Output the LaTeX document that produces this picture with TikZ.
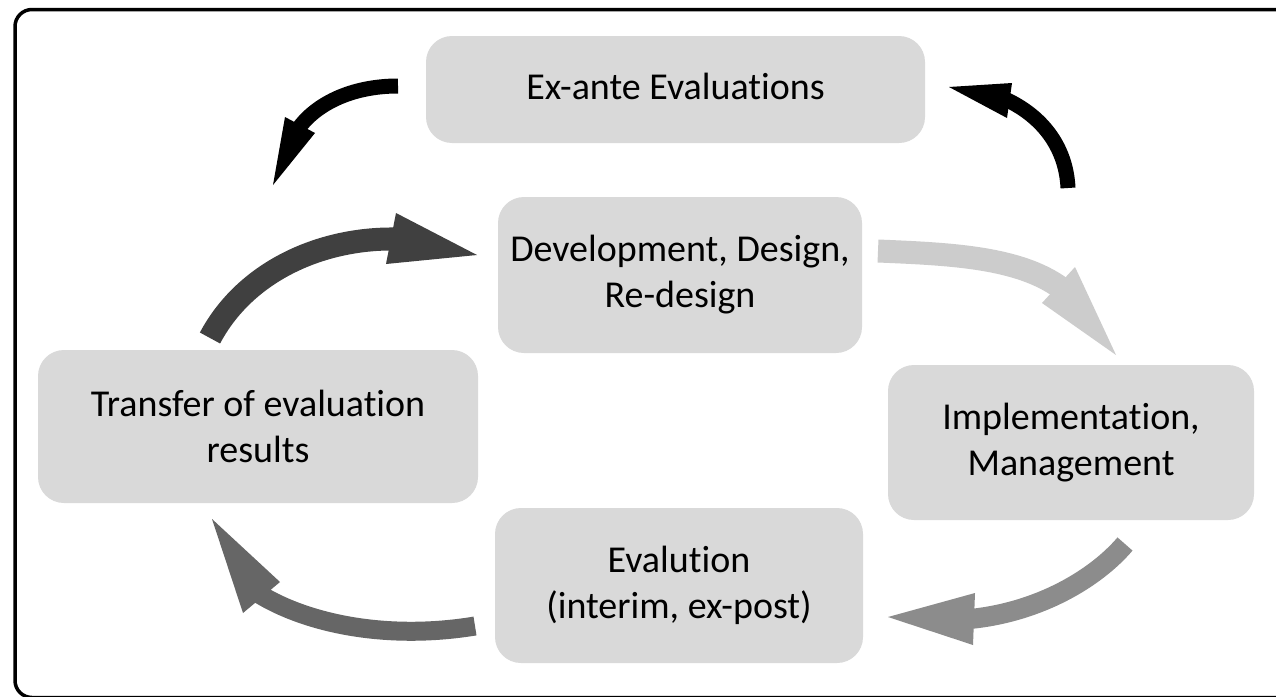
\documentclass[tikz,border=0pt]{standalone}
\usepackage{fontspec}
\setmainfont{Carlito}[Ligatures=NoCommon]
\definecolor{boxgray}{HTML}{D9D9D9}
\definecolor{arrowlight}{HTML}{CCCCCC}
\definecolor{arrowmid}{HTML}{8C8C8C}
\definecolor{arrowgrey}{HTML}{666666}
\definecolor{arrowdark}{HTML}{404040}
\begin{document}
\begin{tikzpicture}[x=1pt,y=-1pt,
  stage/.style={fill=boxgray, rounded corners=26pt, inner sep=0pt, align=center,
    font=\fontsize{38}{46}\selectfont},
  shaft/.style={line cap=butt}]
\useasboundingbox (0,0) rectangle (1276,696);
\fill[white] (0,0) rectangle (1276,696);
\begin{scope}
\clip (0,0) rectangle (1276,696);
\draw[line width=3.5pt, rounded corners=17pt] (15,9.5) rectangle (1320,697.5);
\end{scope}

\node[stage, minimum width=499pt, minimum height=107pt] (exante) at (675.5,89.5) {Ex-ante Evaluations\vphantom{p}};
\node[stage, minimum width=364pt, minimum height=156pt] (dev) at (680,275) {Development, Design,\\Re-design};
\node[stage, minimum width=440pt, minimum height=153pt] (transfer) at (258,426.5) {Transfer of evaluation\\results};
\node[stage, minimum width=366pt, minimum height=155pt] (impl) at (1071,442.5) {Implementation,\\Management};
\node[stage, minimum width=368pt, minimum height=155pt] (eval) at (679,585.5) {Evalution\\(interim, ex-post)};

% arrow 1: Ex-ante -> (left, down)
\coordinate (s1) at (398,86);   \coordinate (b1) at (298,129);
\coordinate (t1) at (273,185);  \coordinate (h1a) at (285,117); \coordinate (h1b) at (315,133);
\draw[shaft, black, line width=15pt] (s1) .. controls (350,86) and (315,105) .. (b1);
\fill[black] (t1) -- (h1a) -- (h1b) -- cycle;

% arrow 2: (right) -> Ex-ante
\coordinate (s2) at (1068,188); \coordinate (b2) at (1005,99);
\coordinate (t2) at (949,87);   \coordinate (h2a) at (1012,83); \coordinate (h2b) at (1007,118);
\draw[shaft, black, line width=15pt] (s2) .. controls (1066,145) and (1040,115) .. (b2);
\fill[black] (t2) -- (h2a) -- (h2b) -- cycle;

% arrow 3: Transfer -> Development
\coordinate (s3) at (210,338);  \coordinate (b3) at (395,239);
\coordinate (t3) at (477,255);  \coordinate (h3a) at (396,213); \coordinate (h3b) at (386,264);
\draw[shaft, arrowdark, line width=23pt] (s3) .. controls (245,272) and (320,238) .. (b3);
\fill[arrowdark] (t3) -- (h3a) -- (h3b) -- cycle;

% arrow 4: Development -> Implementation
\coordinate (s4) at (878,251);  \coordinate (b4) at (1061,288);
\coordinate (t4) at (1116,355); \coordinate (h4a) at (1075,267); \coordinate (h4b) at (1042,303);
\draw[shaft, arrowlight, line width=23pt] (s4) .. controls (950,254) and (1018.5,257) .. (b4);
\fill[arrowlight] (t4) -- (h4a) -- (h4b) -- cycle;

% arrow 5: Implementation -> Evalution
\coordinate (s5) at (1125,544); \coordinate (b5) at (970,619);
\coordinate (t5) at (888,617);  \coordinate (h5a) at (975,593); \coordinate (h5b) at (973,645);
\draw[shaft, arrowmid, line width=20pt] (s5) .. controls (1096,578) and (1040,612) .. (b5);
\fill[arrowmid] (t5) -- (h5a) -- (h5b) -- cycle;

% arrow 6: Evalution -> Transfer
\coordinate (s6) at (475,626);  \coordinate (b6) at (259,594);
\coordinate (t6) at (212,519);  \coordinate (h6a) at (280,582); \coordinate (h6b) at (243,613);
\draw[shaft, arrowgrey, line width=19pt] (s6) .. controls (390,640) and (310,625) .. (b6);
\fill[arrowgrey] (t6) -- (h6a) -- (h6b) -- cycle;
\end{tikzpicture}
\end{document}
